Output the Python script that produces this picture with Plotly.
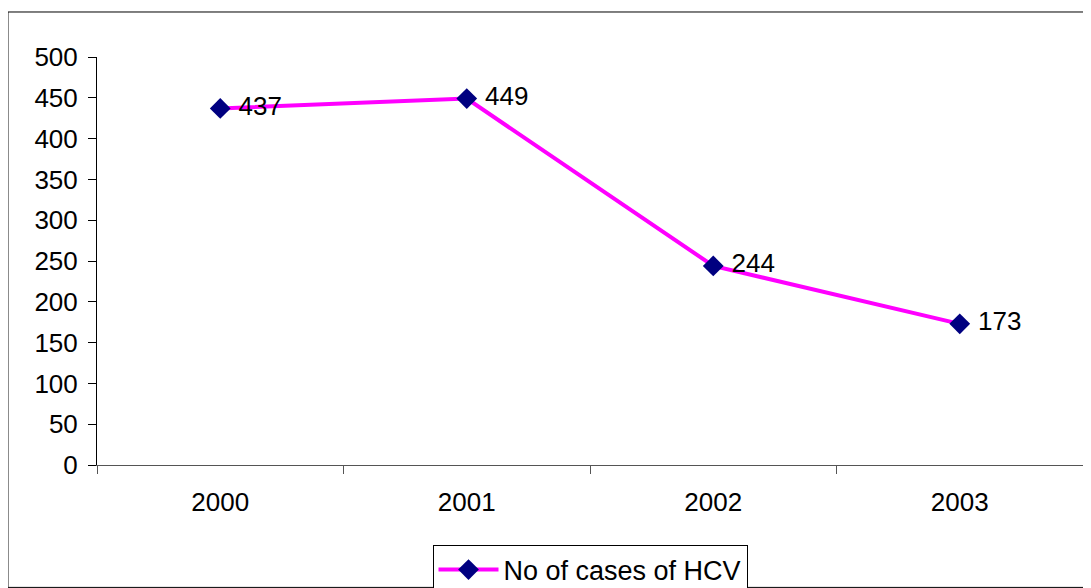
import plotly.graph_objects as go

years = ["2000", "2001", "2002", "2003"]
cases = [437, 449, 244, 173]
series_name = "No of cases of HCV"

FONT = "Liberation Sans, Arial, sans-serif"

fig = go.Figure()
fig.add_trace(go.Scatter(
    x=years, y=cases, name=series_name,
    mode="lines+markers+text",
    text=[" " + str(v) for v in cases],
    textposition="middle right",
    textfont=dict(size=26, color="black", family=FONT),
    line=dict(color="#FF00FF", width=4),
    marker=dict(symbol="diamond", size=16, color="#000080"),
))

# page body has an 8px margin, so the figure is sized to sit inside the window
fig.update_layout(
    width=1083, height=580,
    paper_bgcolor="white", plot_bgcolor="white",
    margin=dict(l=89, r=8, t=49, b=123, autoexpand=False),
    font=dict(family=FONT, size=26, color="black"),
    showlegend=True,
    legend=dict(
        orientation="h", x=0.5, xanchor="center", y=-0.195, yanchor="top",
        bordercolor="black", borderwidth=1, itemwidth=60,
        font=dict(size=27),
    ),
    xaxis=dict(
        type="category", showgrid=False, showline=True, linecolor="#555555",
        ticks="outside", tickson="boundaries", ticklen=8, tickcolor="#555555",
        ticklabelstandoff=14,
        range=[-0.5, 3.5], automargin=False,
    ),
    yaxis=dict(
        range=[0, 500], dtick=50, showgrid=False, showline=True,
        linecolor="black", ticks="outside", ticklen=8, tickcolor="black",
        ticklabelstandoff=5,
        zeroline=False, automargin=False,
    ),
    shapes=[dict(
        type="rect", xref="paper", yref="paper",
        x0=-0.0903, x1=1.0061, y0=-0.30, y1=1.1103,
        line=dict(color="black", width=1),
    )],
)

fig.write_html("out.html")
